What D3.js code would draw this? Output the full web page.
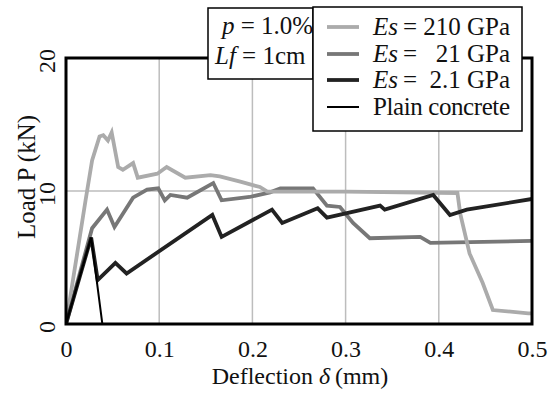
<!DOCTYPE html>
<html><head><meta charset="utf-8">
<script src="https://cdn.jsdelivr.net/npm/d3@7"></script>
<style>body{margin:0;background:#fff}svg{display:block}</style>
</head><body>
<svg id="c" width="559" height="394"></svg>
<script>
const xTicks = [0, 0.1, 0.2, 0.3, 0.4, 0.5];
const yTicks = [0, 10, 20];
const seriesNames = ["Es = 210 GPa", "Es = 21 GPa", "Es = 2.1 GPa", "Plain concrete"];
const es210 = [[0,0],[0.021,9.3],[0.028,12.3],[0.036,14.1],[0.040,14.2],[0.045,13.8],[0.049,14.4],[0.056,11.8],[0.061,11.6],[0.072,12.1],[0.077,11.0],[0.098,11.3],[0.108,11.8],[0.128,11.0],[0.155,11.2],[0.165,11.1],[0.187,10.7],[0.208,10.3],[0.216,9.95],[0.30,9.95],[0.42,9.85],[0.423,8.3],[0.433,5.3],[0.447,3.1],[0.458,1.05],[0.496,0.8],[0.5,0.8]];
const es21 = [[0,0],[0.028,7.2],[0.044,8.6],[0.052,7.3],[0.072,9.5],[0.087,10.1],[0.099,10.2],[0.106,9.3],[0.112,9.7],[0.130,9.5],[0.158,10.6],[0.167,9.3],[0.197,9.55],[0.219,9.9],[0.230,10.2],[0.265,10.2],[0.280,8.9],[0.294,8.8],[0.308,7.6],[0.326,6.45],[0.380,6.55],[0.391,6.1],[0.5,6.25]];
const es2_1 = [[0,0],[0.027,6.5],[0.034,3.3],[0.053,4.6],[0.065,3.8],[0.157,8.2],[0.167,6.55],[0.221,8.6],[0.232,7.6],[0.270,8.7],[0.280,8.0],[0.337,8.9],[0.342,8.6],[0.394,9.7],[0.412,8.2],[0.430,8.6],[0.5,9.4]];
const plain = [[0,0],[0.027,6.5],[0.039,0],[0.5,0]];

const svg = d3.select("#c");
const L = 66, R = 532, T = 58, B = 324;
const x = d3.scaleLinear().domain([0, 0.5]).range([L, R]);
const y = d3.scaleLinear().domain([0, 20]).range([B, T]);
const serif = "'Liberation Serif','Times New Roman',serif";

svg.append("defs").append("clipPath").attr("id","clip").append("rect")
  .attr("x", L).attr("y", T).attr("width", R - L).attr("height", B - T);

// grid
const grid = svg.append("g");
grid.selectAll("line.v").data(xTicks.filter(d => d > 0 && d < 0.5)).join("line")
  .attr("x1", d => x(d)).attr("x2", d => x(d)).attr("y1", T).attr("y2", B)
  .attr("stroke", "#bdbdbd").attr("stroke-width", 1.5);
grid.selectAll("line.h").data([10]).join("line")
  .attr("x1", L).attr("x2", R).attr("y1", d => y(d)).attr("y2", d => y(d))
  .attr("stroke", "#bdbdbd").attr("stroke-width", 1.5);

// x axis (labels only)
const xAxis = svg.append("g").attr("transform", `translate(0,${B})`)
  .call(d3.axisBottom(x).tickValues(xTicks).tickSize(0).tickPadding(16).tickFormat(d => d === 0 ? "0" : d3.format(".1f")(d)));
xAxis.select(".domain").remove();
xAxis.selectAll("text").attr("font-family", serif).attr("font-size", 24).attr("fill", "#111");

// y tick labels, rotated
svg.append("g").selectAll("text").data(yTicks).join("text")
  .attr("transform", d => `translate(55,${y(d) + 3}) rotate(-90)`)
  .attr("text-anchor", "middle")
  .attr("font-family", serif).attr("font-size", 24).attr("fill", "#111")
  .text(d => d3.format("d")(d));

// lines
const line = d3.line().x(d => x(d[0])).y(d => y(d[1]));
const g = svg.append("g").attr("clip-path", "url(#clip)");
const styles = [
  {data: es21, color: "#777777", w: 3.8},
  {data: es210, color: "#ababab", w: 3.8},
  {data: es2_1, color: "#222222", w: 3.8},
  {data: plain, color: "#000000", w: 2}
];
styles.forEach(s => g.append("path").attr("d", line(s.data)).attr("fill", "none")
  .attr("stroke", s.color).attr("stroke-width", s.w).attr("stroke-linejoin", "miter"));

// frame
svg.append("rect").attr("x", L).attr("y", T).attr("width", R - L).attr("height", B - T)
  .attr("fill", "none").attr("stroke", "#000").attr("stroke-width", 3);

// axis titles
const xt = svg.append("text").attr("x", 300).attr("y", 384).attr("text-anchor", "middle")
  .attr("font-family", serif).attr("font-size", 24).attr("fill", "#111");
xt.append("tspan").text("Deflection ");
xt.append("tspan").attr("font-style", "italic").text("δ");
xt.append("tspan").text("\u2009(mm)");

svg.append("text").attr("transform", "translate(35,177) rotate(-90)").attr("text-anchor", "middle")
  .attr("font-family", serif).attr("font-size", 25).attr("fill", "#111")
  .text("Load  P (kN)");

// parameter box
svg.append("rect").attr("x", 208).attr("y", 8).attr("width", 105).attr("height", 71)
  .attr("fill", "#fff").attr("stroke", "#000").attr("stroke-width", 1.5);
const p1 = svg.append("text").attr("x", 222).attr("y", 34).attr("font-family", serif).attr("font-size", 25).attr("fill", "#111");
p1.append("tspan").attr("font-style", "italic").text("p");
p1.append("tspan").text(" = 1.0%");
const p2 = svg.append("text").attr("x", 215).attr("y", 64).attr("font-family", serif).attr("font-size", 25).attr("fill", "#111");
p2.append("tspan").attr("font-style", "italic").text("Lf");
p2.append("tspan").text(" = 1cm");

// legend
svg.append("rect").attr("x", 313).attr("y", 7).attr("width", 209).attr("height", 124)
  .attr("fill", "#fff").attr("stroke", "#000").attr("stroke-width", 1.5);
const legVals = ["210 GPa", "21 GPa", "2.1 GPa"];
const legColors = ["#ababab", "#777777", "#222222", "#000000"];
const legW = [3.8, 3.8, 3.8, 2];
const rowY = [30, 57, 83, 110];
seriesNames.forEach((name, i) => {
  const ly = rowY[i];
  svg.append("line").attr("x1", 327).attr("x2", 359).attr("y1", ly - 3).attr("y2", ly - 3)
    .attr("stroke", legColors[i]).attr("stroke-width", legW[i]);
  if (i < 3) {
    svg.append("text").attr("x", 373).attr("y", ly + 5).attr("font-family", serif).attr("font-size", 25)
      .attr("font-style", "italic").attr("fill", "#111").text("Es");
    svg.append("text").attr("x", 403).attr("y", ly + 5).attr("font-family", serif).attr("font-size", 25)
      .attr("fill", "#111").text("=");
    svg.append("text").attr("x", 510).attr("y", ly + 5).attr("text-anchor", "end").attr("font-family", serif)
      .attr("font-size", 25).attr("fill", "#111").text(legVals[i]);
  } else {
    svg.append("text").attr("x", 373).attr("y", ly + 5).attr("font-family", serif).attr("font-size", 25)
      .attr("fill", "#111").attr("textLength", 137).text(name);
  }
});
</script>
</body></html>
